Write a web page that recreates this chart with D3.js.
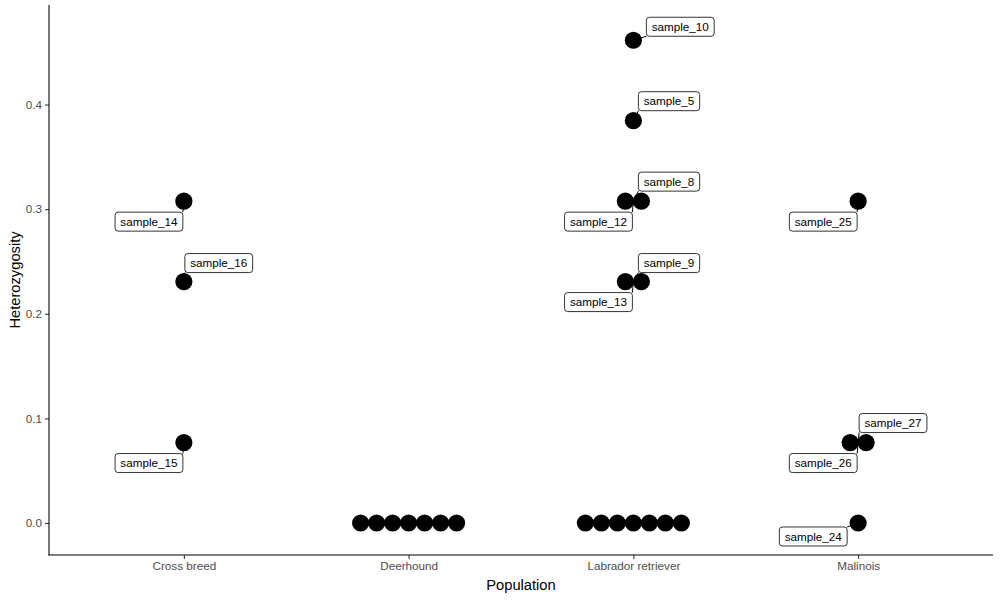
<!DOCTYPE html>
<html><head><meta charset="utf-8">
<script src="https://cdn.jsdelivr.net/npm/d3@7"></script>
<style>body{margin:0;background:#fff}svg{display:block}</style>
</head><body>
<svg id="chart" width="1000" height="600"></svg>
<script>
// ---- data ----
const categories = ["Cross breed", "Deerhound", "Labrador retriever", "Malinois"];
const sampleNames = [
  "sample_14","sample_15","sample_16",
  "sample_17","sample_18","sample_19","sample_20","sample_21","sample_22","sample_23",
  "sample_5","sample_8","sample_9","sample_10","sample_12","sample_13",
  "sample_1","sample_2","sample_3","sample_4","sample_6","sample_7","sample_11",
  "sample_24","sample_25","sample_26","sample_27"
];
const samplePopulation = [
  "Cross breed","Cross breed","Cross breed",
  "Deerhound","Deerhound","Deerhound","Deerhound","Deerhound","Deerhound","Deerhound",
  "Labrador retriever","Labrador retriever","Labrador retriever","Labrador retriever","Labrador retriever","Labrador retriever",
  "Labrador retriever","Labrador retriever","Labrador retriever","Labrador retriever","Labrador retriever","Labrador retriever","Labrador retriever",
  "Malinois","Malinois","Malinois","Malinois"
];
const heterozygosity = [
  0.3077, 0.0769, 0.2308,
  0, 0, 0, 0, 0, 0, 0,
  0.3846, 0.3077, 0.2308, 0.4615, 0.3077, 0.2308,
  0, 0, 0, 0, 0, 0, 0,
  0, 0.3077, 0.0769, 0.0769
];
const showLabel = [
  true, true, true,
  false,false,false,false,false,false,false,
  true,true,true,true,true,true,
  false,false,false,false,false,false,false,
  true,true,true,true
];
const yTicks = [0, 0.1, 0.2, 0.3, 0.4];

// ---- layout (label placement, pixels) ----
const labelPlacement = {
  sample_14: ["dl", -1, 11], sample_15: ["dl", -1, 11], sample_16: ["ur", 1, -9],
  sample_10: ["ur", 13, -4], sample_5: ["ur", 5, -10], sample_8: ["ur", 5, -10],
  sample_12: ["dl", -1, 11], sample_9: ["ur", 5, -9], sample_13: ["dl", -1, 11],
  sample_25: ["dl", -1, 11], sample_26: ["dl", -1, 11], sample_27: ["ur", 1, -10],
  sample_24: ["dl", -11, 4]
};

const svg = d3.select("#chart");
const mLeft = 49, mRight = 993, mTop = 5, mBottom = 555;
const font = "Liberation Sans, Arial, Helvetica, sans-serif";

const x = d3.scalePoint().domain(categories).range([mLeft, mRight]).padding(0.6);
const y = d3.scaleLinear().domain([-0.0306, 0.4952]).range([mBottom, mTop]);

const data = sampleNames.map((n, i) => ({name: n, pop: samplePopulation[i], v: heterozygosity[i], lab: showLabel[i]}));

// dodge identical values horizontally
const groups = d3.group(data, d => d.pop + "|" + d.v);
const spacing = 16, r = 8.6;
groups.forEach(g => g.forEach((d, i) => { d.dx = (i - (g.length - 1) / 2) * spacing; }));

// axes
const yAxis = d3.axisLeft(y).tickValues(yTicks).tickFormat(d3.format(".1f")).tickSize(4).tickPadding(3);
const gy = svg.append("g").attr("transform", `translate(${mLeft},0)`).call(yAxis);
gy.select(".domain").remove();
gy.selectAll(".tick line").attr("stroke", "#333").attr("stroke-width", 1.07);
gy.selectAll(".tick text").attr("fill", "#4d4d4d").attr("font-size", "11.7px").attr("font-family", font);

const xAxis = d3.axisBottom(x).tickSize(4).tickPadding(3);
const gx = svg.append("g").attr("transform", `translate(0,${mBottom})`).call(xAxis);
gx.select(".domain").remove();
gx.selectAll(".tick line").attr("stroke", "#333").attr("stroke-width", 1.07);
gx.selectAll(".tick text").attr("fill", "#4d4d4d").attr("font-size", "11.7px").attr("font-family", font);

svg.append("line").attr("x1", mLeft).attr("x2", mLeft).attr("y1", mTop).attr("y2", mBottom + 0.5)
  .attr("stroke", "#000").attr("stroke-width", 1.07);
svg.append("line").attr("x1", mLeft - 0.5).attr("x2", mRight).attr("y1", mBottom).attr("y2", mBottom)
  .attr("stroke", "#000").attr("stroke-width", 1.07);

svg.append("text").attr("x", (mLeft + mRight) / 2).attr("y", 590).attr("text-anchor", "middle")
  .attr("font-size", "14.7px").attr("font-family", font).attr("fill", "#000").text("Population");
svg.append("text").attr("transform", `translate(20,${(mTop + mBottom) / 2}) rotate(-90)`).attr("text-anchor", "middle")
  .attr("font-size", "14.7px").attr("font-family", font).attr("fill", "#000").text("Heterozygosity");

// labels geometry
const labelled = data.filter(d => d.lab);
const fs = 11.7, padX = 5.3, boxH = 19;
const measure = svg.append("text").attr("font-size", fs + "px").attr("font-family", font);
labelled.forEach(d => {
  measure.text(d.name);
  const w = measure.node().getComputedTextLength() + 2 * padX;
  const ax = x(d.pop), ay = y(d.v);
  const p = labelPlacement[d.name];
  let bx, by;
  if (p[0] === "ur") { bx = ax + p[1]; by = ay + p[2] - boxH; }
  else { bx = ax + p[1] - w; by = ay + p[2]; }
  d.box = {x: bx, y: by, w: w, h: boxH};
  d.ax = ax; d.ay = ay;
  d.sx = Math.max(bx, Math.min(ax, bx + w));
  d.sy = Math.max(by, Math.min(ay, by + boxH));
});
measure.remove();

// segments
svg.append("g").selectAll("line").data(labelled).join("line")
  .attr("x1", d => d.ax).attr("y1", d => d.ay).attr("x2", d => d.sx).attr("y2", d => d.sy)
  .attr("stroke", "#000").attr("stroke-width", 1);

// points
svg.append("g").selectAll("circle").data(data).join("circle")
  .attr("cx", d => x(d.pop) + d.dx).attr("cy", d => y(d.v)).attr("r", r).attr("fill", "#000");

// label boxes
const lg = svg.append("g").selectAll("g").data(labelled).join("g");
lg.append("rect").attr("x", d => d.box.x).attr("y", d => d.box.y).attr("width", d => d.box.w).attr("height", d => d.box.h)
  .attr("rx", 3).attr("ry", 3).attr("fill", "#fff").attr("stroke", "#000").attr("stroke-width", 0.8);
lg.append("text").attr("x", d => d.box.x + d.box.w / 2).attr("y", d => d.box.y + d.box.h / 2 + 4.1)
  .attr("text-anchor", "middle").attr("font-size", fs + "px").attr("font-family", font).attr("fill", "#000")
  .text(d => d.name);
</script>
</body></html>
